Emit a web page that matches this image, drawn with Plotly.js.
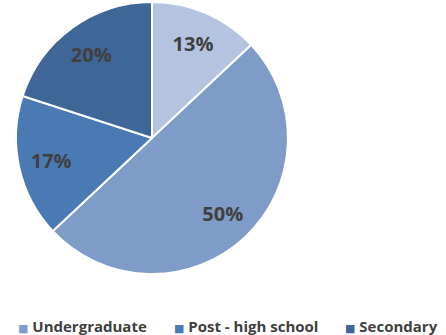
<!DOCTYPE html>
<html><head><meta charset="utf-8">
<script src="https://cdn.plot.ly/plotly-3.0.1.min.js"></script>
<style>html,body{margin:0;padding:0;background:#fff}#chart{width:446px;height:335px}</style>
</head><body><div id="chart"></div>
<script>
const categories = ["Postgraduate", "Undergraduate", "Post - high school", "Secondary"];
const values = [13, 50, 17, 20];
const colors = ["#b4c4e0", "#7f9cc8", "#4a7ab4", "#3e6697"];
const legendCats = ["Undergraduate", "Post - high school", "Secondary"];
const legendColors = ["#7f9cc8", "#4a7ab4", "#3e6697"];

const W = 446, H = 335;
const cx = 152, cy = 138, r = 136;
const dom = {x: [(cx - r) / W, (cx + r) / W], y: [(H - cy - r) / H, (H - cy + r) / H]};

const pieTrace = {
  type: "pie",
  labels: categories,
  values: values,
  sort: false,
  direction: "clockwise",
  rotation: 0,
  marker: {colors: colors, line: {color: "#ffffff", width: 2}},
  textinfo: "none",
  showlegend: false,
  domain: dom
};

const labelTrace = {
  type: "pie",
  labels: categories,
  values: values,
  sort: false,
  direction: "clockwise",
  rotation: 0,
  hole: 0.52,
  marker: {colors: categories.map(() => "rgba(0,0,0,0)"), line: {width: 0}},
  texttemplate: "%{value}%",
  textposition: "inside",
  insidetextorientation: "horizontal",
  textfont: {family: "Open Sans, DejaVu Sans, sans-serif", size: 20, color: "#404040", weight: "bold"},
  showlegend: false,
  domain: dom
};

const legendX = [16, 172, 343];
const annotations = legendCats.map((c, i) => ({
  xref: "paper", yref: "paper",
  x: legendX[i] / W, y: (H - 326) / H,
  xanchor: "left", yanchor: "middle",
  showarrow: false,
  text: "<span style='color:" + legendColors[i] + ";font-size:11px'>■</span> " + c,
  font: {family: "Open Sans, DejaVu Sans, sans-serif", size: 15, color: "#404040", weight: "bold"}
}));

Plotly.newPlot("chart", [pieTrace, labelTrace], {
  width: W, height: H,
  margin: {l: 0, r: 0, t: 0, b: 0},
  paper_bgcolor: "#ffffff",
  annotations: annotations,
  showlegend: false
}, {displayModeBar: false, staticPlot: true});
</script></body></html>
